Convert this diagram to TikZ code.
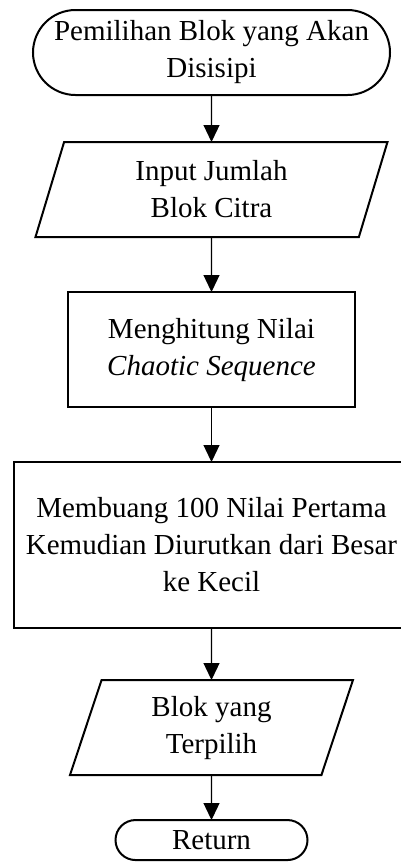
\documentclass[tikz,border=0pt]{standalone}
\usepackage{fontspec}
\setmainfont{Liberation Serif}
\usepackage{tikz}
\usetikzlibrary{arrows.meta,positioning,shapes.geometric,shapes.misc,calc}

\tikzset{
  terminal/.style={
    rounded rectangle,
    draw=black,
    line width=2pt,
    inner sep=0pt,
    outer sep=0pt,
    align=center
  },
  inout/.style={
    trapezium,
    trapezium left angle=63.5,
    trapezium right angle=116.5,
    trapezium stretches body,
    draw=black,
    line width=2pt,
    inner sep=0pt,
    outer sep=0pt,
    align=center
  },
  process/.style={
    rectangle,
    draw=black,
    line width=2pt,
    inner sep=0pt,
    outer sep=0pt,
    align=center
  },
  flow/.style={
    -{Triangle[length=17pt,width=16pt]},
    line width=1.2pt
  }
}

\begin{document}
\begin{tikzpicture}[font=\fontsize{29}{37}\selectfont]
    \useasboundingbox (0,0) rectangle (401pt,-863pt);
    % flowchart nodes
    \node[terminal, minimum width=357pt, minimum height=85pt] (start) at (211.5pt,-52.5pt)
      {Pemilihan Blok yang Akan\\Disisipi};
    \node[inout, minimum width=352pt, minimum height=95pt, below=47pt of start] (jumlah)
      {Input Jumlah\\Blok Citra};
    \node[process, minimum width=287pt, minimum height=115pt, below=55pt of jumlah] (hitung)
      {Menghitung Nilai\\\textit{Chaotic Sequence}};
    \node[process, draw=none, minimum width=396pt, minimum height=166pt, below=55pt of hitung] (urut)
      {Membuang 100 Nilai Pertama\\Kemudian Diurutkan dari Besar\\ke Kecil};
    % the wide box runs past the right edge, no right side shown
    \draw[line width=2pt] ($(urut.north east)+(30pt,0)$) -- (urut.north west)
      -- (urut.south west) -- ($(urut.south east)+(30pt,0)$);
    \node[inout, minimum width=283pt, minimum height=95pt, below=52pt of urut] (terpilih)
      {Blok yang\\Terpilih};
    \node[terminal, minimum width=192pt, minimum height=40pt, below=45pt of terpilih] (return)
      {Return};
    % connectors
    \draw[flow] (start) -- (jumlah);
    \draw[flow] (jumlah) -- (hitung);
    \draw[flow] (hitung) -- (urut);
    \draw[flow] (urut) -- (terpilih);
    \draw[flow] (terpilih) -- (return);
  \end{tikzpicture}
\end{document}
